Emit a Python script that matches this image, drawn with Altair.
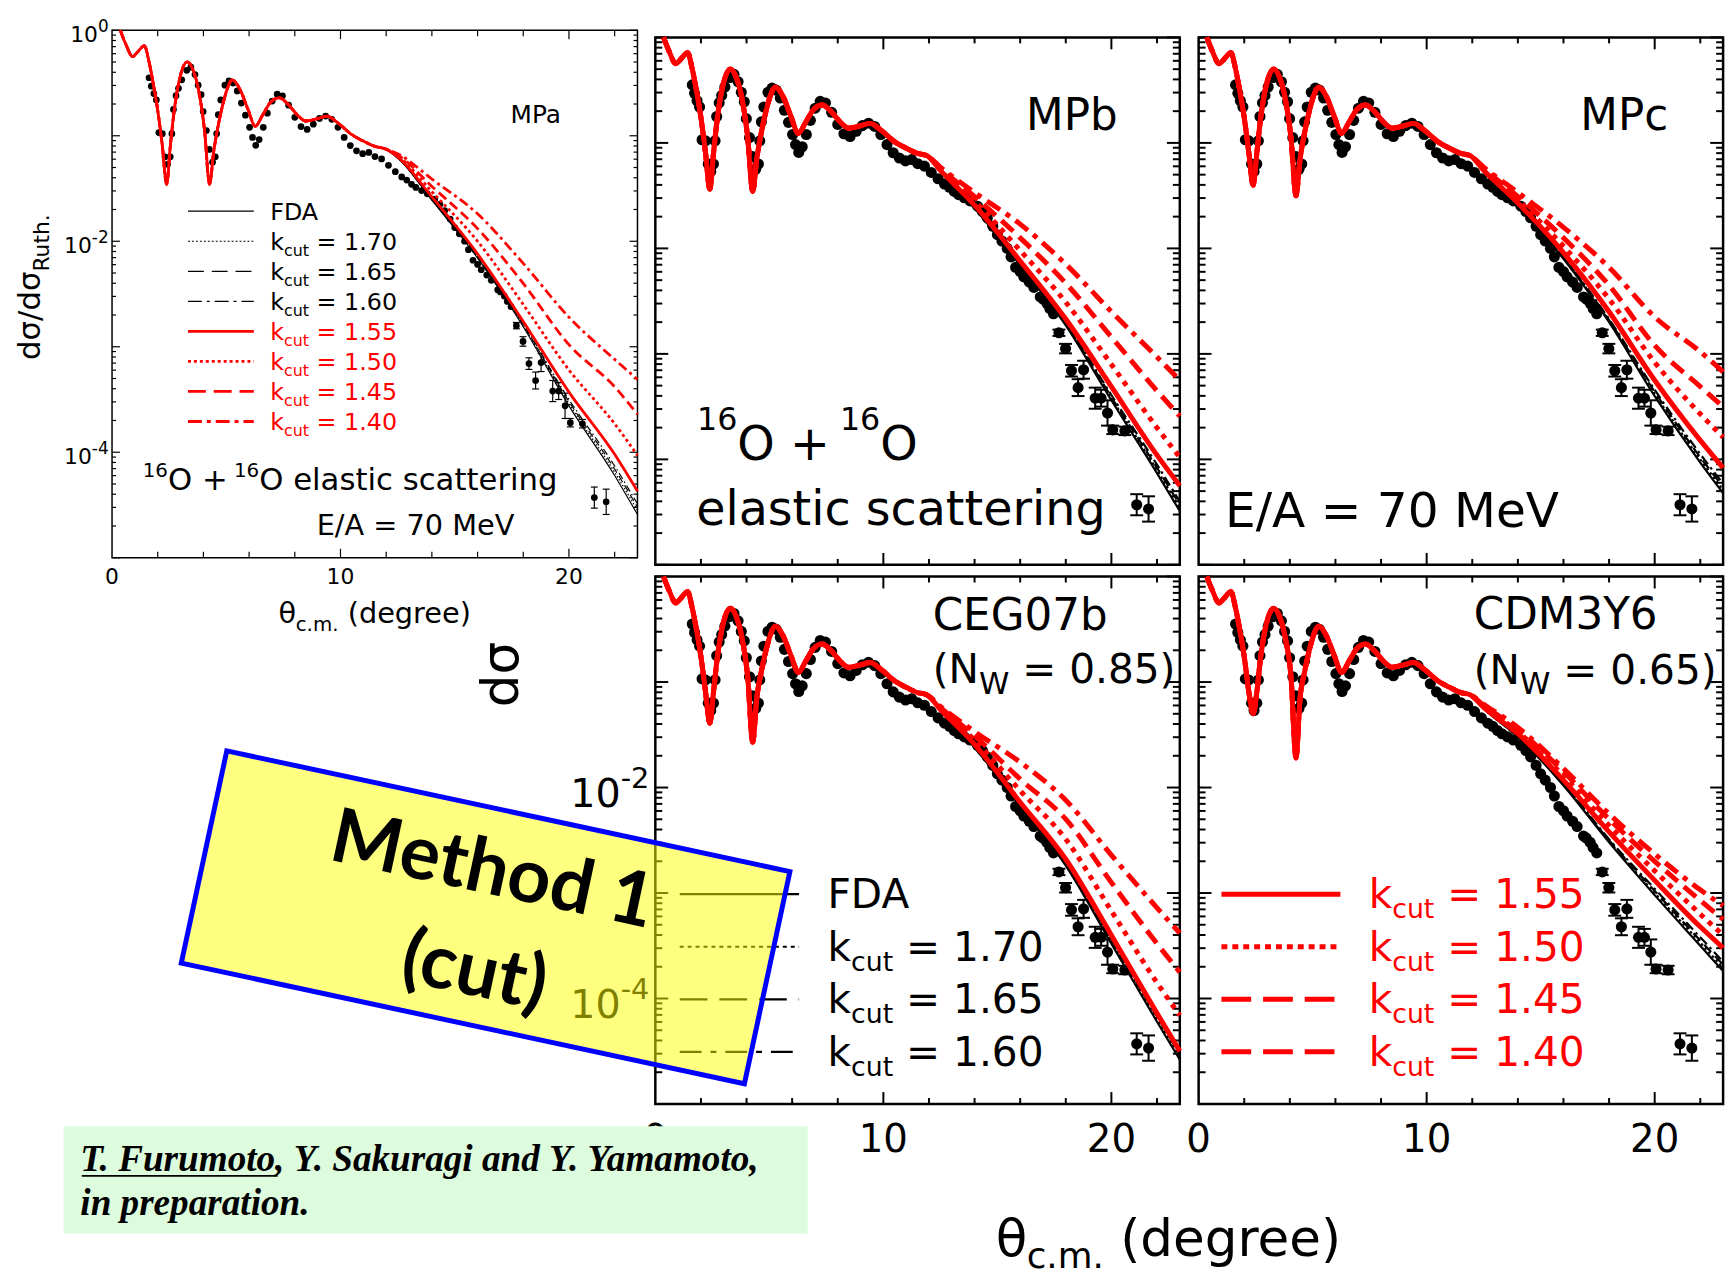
import altair as alt
import pandas as pd

# ------------------------------------------------------------------ data
# 16O + 16O elastic scattering at E/A = 70 MeV, cross section / Rutherford.
# Calculated curves: folding model (FDA) and k_cut variants, five interactions.
CURVES = ["FDA", "1.70", "1.65", "1.60", "1.55", "1.50", "1.45", "1.40"]

# forward-angle diffraction pattern common to every calculation (log10 ratio)
HEAD_THETA = [0.36, 0.6, 0.9, 1.1, 1.42, 1.6, 1.8, 2.0, 2.2, 2.55, 2.7, 2.97,
              3.29, 3.55, 3.8, 4.05, 4.45, 4.65, 4.9, 5.05, 5.26, 5.6, 5.95,
              6.27, 6.6, 6.95, 7.32, 7.7, 8.1, 8.48, 8.95, 9.42, 9.9, 10.5,
              11.0, 11.5, 11.9]
HEAD_LOG = [0.0, -0.13, -0.25, -0.21, -0.145, -0.28, -0.50, -0.76, -1.09,
            -1.10, -0.80, -0.45, -0.30, -0.38, -0.58, -0.95, -1.15, -0.90,
            -0.66, -0.55, -0.47, -0.56, -0.75, -0.91, -0.80, -0.68, -0.64,
            -0.70, -0.80, -0.86, -0.84, -0.815, -0.88, -0.99, -1.05, -1.10,
            -1.12]

# depth of the two deep diffraction minima for each interaction
DIP_THETA = [2.39, 4.27]
DIP_LOG = {
    "MPa": [-1.46, -1.46],
    "MPb": [-1.44, -1.46],
    "MPc": [-1.40, -1.50],
    "CEG07b": [-1.39, -1.57],
    "CDM3Y6": [-1.30, -1.72],
}

# larger angles, where the k_cut curves separate (log10 ratio)
TAIL_THETA = [12.5, 14, 16, 18, 20, 22, 23]
TAIL_LOG = {
    "MPa": {
        "FDA":  [-1.21, -1.61, -2.16, -2.81, -3.56, -4.22, -4.59],
        "1.70": [-1.21, -1.61, -2.15, -2.80, -3.54, -4.19, -4.55],
        "1.65": [-1.21, -1.60, -2.15, -2.79, -3.52, -4.16, -4.52],
        "1.60": [-1.21, -1.60, -2.14, -2.78, -3.50, -4.13, -4.49],
        "1.55": [-1.20, -1.58, -2.12, -2.76, -3.43, -4.02, -4.37],
        "1.50": [-1.19, -1.53, -2.00, -2.60, -3.22, -3.73, -4.03],
        "1.45": [-1.18, -1.48, -1.88, -2.40, -2.98, -3.38, -3.64],
        "1.40": [-1.17, -1.41, -1.74, -2.21, -2.72, -3.12, -3.31]},
    "MPb": {
        "FDA":  [-1.27, -1.62, -2.16, -2.73, -3.44, -4.13, -4.49],
        "1.70": [-1.27, -1.62, -2.15, -2.72, -3.42, -4.10, -4.46],
        "1.65": [-1.27, -1.61, -2.15, -2.71, -3.41, -4.08, -4.43],
        "1.60": [-1.27, -1.61, -2.14, -2.70, -3.39, -4.05, -4.40],
        "1.55": [-1.26, -1.59, -2.12, -2.67, -3.31, -3.96, -4.25],
        "1.50": [-1.25, -1.55, -2.02, -2.51, -3.10, -3.70, -3.98],
        "1.45": [-1.24, -1.51, -1.90, -2.33, -2.84, -3.35, -3.59],
        "1.40": [-1.23, -1.47, -1.77, -2.15, -2.60, -3.03, -3.25]},
    "MPc": {
        "FDA":  [-1.27, -1.60, -2.10, -2.70, -3.40, -4.03, -4.32],
        "1.70": [-1.27, -1.60, -2.09, -2.69, -3.38, -4.00, -4.29],
        "1.65": [-1.27, -1.59, -2.09, -2.68, -3.36, -3.98, -4.26],
        "1.60": [-1.27, -1.59, -2.08, -2.67, -3.34, -3.95, -4.23],
        "1.55": [-1.26, -1.57, -2.04, -2.60, -3.25, -3.82, -4.08],
        "1.50": [-1.25, -1.54, -1.98, -2.48, -3.08, -3.57, -3.79],
        "1.45": [-1.24, -1.51, -1.90, -2.35, -2.92, -3.31, -3.50],
        "1.40": [-1.23, -1.47, -1.80, -2.18, -2.65, -2.98, -3.17]},
    "CEG07b": {
        "FDA":  [-1.27, -1.62, -2.18, -2.74, -3.48, -4.22, -4.58],
        "1.70": [-1.27, -1.62, -2.17, -2.73, -3.46, -4.19, -4.55],
        "1.65": [-1.27, -1.61, -2.17, -2.72, -3.45, -4.17, -4.53],
        "1.60": [-1.27, -1.61, -2.16, -2.71, -3.43, -4.15, -4.51],
        "1.55": [-1.26, -1.59, -2.14, -2.68, -3.40, -4.14, -4.50],
        "1.50": [-1.25, -1.55, -2.03, -2.49, -3.17, -3.85, -4.16],
        "1.45": [-1.24, -1.51, -1.92, -2.30, -2.90, -3.48, -3.75],
        "1.40": [-1.23, -1.47, -1.76, -2.12, -2.64, -3.14, -3.38]},
    "CDM3Y6": {
        "FDA":  [-1.25, -1.52, -1.98, -2.52, -3.02, -3.50, -3.74],
        "1.70": [-1.25, -1.52, -1.97, -2.51, -3.00, -3.47, -3.71],
        "1.65": [-1.25, -1.51, -1.97, -2.50, -2.98, -3.45, -3.68],
        "1.60": [-1.25, -1.51, -1.96, -2.49, -2.96, -3.42, -3.65],
        "1.55": [-1.24, -1.49, -1.93, -2.42, -2.88, -3.32, -3.52],
        "1.50": [-1.23, -1.47, -1.89, -2.36, -2.79, -3.20, -3.40],
        "1.45": [-1.22, -1.45, -1.85, -2.30, -2.70, -3.07, -3.25],
        "1.40": [-1.21, -1.43, -1.82, -2.25, -2.63, -2.97, -3.12]},
}

# measured cross sections (log10 ratio)
EXP_THETA = [
    1.62, 1.72, 1.83, 1.94, 2.05, 2.20, 2.32, 2.43, 2.55, 2.62,
    2.69, 2.80, 2.91, 3.05, 3.27, 3.45, 3.63, 3.77, 3.90, 3.99,
    4.13, 4.26, 4.40, 4.52, 4.58, 4.65, 4.76, 4.94, 5.12, 5.30,
    5.48, 5.66, 5.84, 6.02, 6.15, 6.29, 6.44, 6.62, 6.80, 7.01,
    7.23, 7.46, 7.73, 8.00, 8.27, 8.54, 8.81, 9.08, 9.35, 9.62,
    9.89, 10.16, 10.43, 10.70, 10.97, 11.24, 11.51, 11.80, 12.10, 12.40,
    12.68, 12.90, 13.11, 13.30, 13.55, 13.80, 14.13, 14.35, 14.56, 14.80,
    15.00, 15.20, 15.43, 15.60, 15.80, 16.00, 16.16, 16.40, 16.60, 16.88,
    17.00, 17.17, 17.30, 17.46, 17.70, 17.99, 18.25, 18.54, 18.78, 19.29,
    19.55, 19.83, 20.06, 20.59, 21.11, 21.63]
EXP_LOG = [
    -0.45, -0.53, -0.60, -0.66, -0.97, -0.98, -1.20, -1.27, -1.20, -0.98,
    -0.75, -0.62, -0.55, -0.47, -0.38, -0.35, -0.42, -0.52, -0.61, -0.77,
    -0.95, -1.13, -1.25, -1.20, -0.98, -0.80, -0.66, -0.52, -0.48, -0.50,
    -0.575, -0.69, -0.805, -0.92, -1.016, -1.09, -1.036, -0.92, -0.786, -0.671,
    -0.606, -0.621, -0.71, -0.825, -0.913, -0.94, -0.89, -0.836, -0.813, -0.844,
    -0.92, -1.016, -1.093, -1.143, -1.17, -1.158, -1.197, -1.22, -1.28, -1.34,
    -1.39, -1.42, -1.46, -1.49, -1.52, -1.55, -1.60, -1.65, -1.71, -1.79,
    -1.87, -1.93, -2.00, -2.08, -2.18, -2.22, -2.27, -2.32, -2.37, -2.46,
    -2.48, -2.52, -2.57, -2.62, -2.80, -2.95, -3.16, -3.32, -3.15, -3.42,
    -3.42, -3.56, -3.72, -3.73, -4.43, -4.47]
# visible error bars (half width in log10)
ERR_THETA = [17.70, 17.99, 18.25, 18.54, 18.78, 19.29, 19.55, 19.83, 20.06, 20.59, 21.11, 21.63]
ERR_HALF = [0.03, 0.045, 0.055, 0.08, 0.085, 0.10, 0.08, 0.12, 0.04, 0.04, 0.10, 0.12]

# axis ticks
Y_DECADES = [1e-5, 1e-4, 1e-3, 1e-2, 1e-1, 1.0]
Y_MINOR = [m * d for d in Y_DECADES[:-1] for m in range(2, 10)]
X_MAJOR = [10, 20]
X_MINOR = [2, 4, 6, 8, 12, 14, 16, 18, 22]
X_LABELS = [0, 10, 20]

# ------------------------------------------------------------------ style
FONT = "DejaVu Sans"
BLACK = "#000000"
RED = "#ff0000"
NBSP = "\u00a0"
ONE = pd.DataFrame({"k": [0]})

# advance widths (em) of DejaVu Sans, used to chain sub/superscripts
DV = {" ": .318, NBSP: .318, "(": .390, ")": .390, "+": .838, ",": .318, "-": .361,
      ".": .318, "/": .337, "=": .838, "A": .684, "C": .698, "D": .770,
      "E": .632, "F": .575, "G": .775, "M": .863, "N": .748, "O": .787,
      "P": .603, "R": .695, "V": .684, "W": .989, "Y": .611, "a": .613,
      "b": .635, "c": .550, "d": .635, "e": .615, "g": .635, "h": .634,
      "i": .278, "k": .579, "l": .278, "m": .974, "n": .634, "r": .411,
      "s": .521, "t": .392, "u": .634, "θ": .602, "σ": .634}
for _d in "0123456789":
    DV[_d] = .636


def tw(s, size):
    return sum(DV.get(c, 0.6) for c in s) * size


SMALL = dict(frame=1.5, tick=1.2, ymaj=8, ymin=4, xmaj=9, xmin=6, dot=46, cap=7, bar=1.2,
             curves={"FDA": (BLACK, 1.2, None), "1.70": (BLACK, 1.2, [1.5, 2]),
                     "1.65": (BLACK, 1.2, [7, 4]), "1.60": (BLACK, 1.2, [7, 3, 1.5, 3]),
                     "1.55": (RED, 2.8, None), "1.50": (RED, 2.8, [3, 3]),
                     "1.45": (RED, 2.8, [10, 5]), "1.40": (RED, 2.8, [10, 4, 3, 4])},
             legend={"FDA": (BLACK, 1.2, None), "1.70": (BLACK, 1.2, [2, 2]),
                     "1.65": (BLACK, 1.2, [16, 8]), "1.60": (BLACK, 1.2, [14, 5, 3, 5]),
                     "1.55": (RED, 2.8, None), "1.50": (RED, 2.8, [3, 3]),
                     "1.45": (RED, 2.8, [18, 8]), "1.40": (RED, 2.8, [14, 5, 4, 5])})
BIG = dict(frame=2.5, tick=2, ymaj=13, ymin=7, xmaj=12, xmin=6, dot=125, cap=13, bar=2,
           curves={"FDA": (BLACK, 2.2, None), "1.70": (BLACK, 2.2, [2.5, 3]),
                   "1.65": (BLACK, 2.2, [10, 6]), "1.60": (BLACK, 2.2, [10, 4, 2.5, 4]),
                   "1.55": (RED, 5, None), "1.50": (RED, 5, [5, 6]),
                   "1.45": (RED, 5, [16, 8]), "1.40": (RED, 5, [16, 7, 5, 7])},
           legend={"FDA": (BLACK, 2.2, None), "1.70": (BLACK, 2.2, [4, 4]),
                   "1.65": (BLACK, 2.2, [28, 12]), "1.60": (BLACK, 2.2, [22, 9, 6, 9]),
                   "1.55": (RED, 5, None), "1.50": (RED, 5, [6, 5]),
                   "1.45": (RED, 5, [30, 12]), "1.40": (RED, 5, [30, 12])})

# plot-area size, vertical offset inside the grid cell, and cell size
PLOT = {"MPa": (530, 532), "MPb": (529, 532), "MPc": (529, 532),
        "CEG07b": (529, 532), "CDM3Y6": (529, 532)}
OFFSET_Y = {"MPa": 0, "MPb": 7.2, "MPc": 7.2, "CEG07b": 0, "CDM3Y6": 0}
CELL = {"MPa": (539.7, 550.8), "MPb": (547.6, 550.8), "MPc": (529, 550.8),
        "blank": (539.7, 532.5), "CEG07b": (547.6, 532.5), "CDM3Y6": (529, 532.5)}


def label(text, x, y, size, color=BLACK, dx=0.0, dy=0.0, angle=0, font=FONT,
          align="left", weight="normal", style="normal", baseline="alphabetic"):
    kw = dict(text=text.replace(" ", NBSP), font=font, fontSize=size, color=color, dx=dx, dy=dy,
              align=align, baseline=baseline, fontWeight=weight, fontStyle=style)
    if angle:
        kw["angle"] = angle
    return alt.Chart(ONE).mark_text(**kw).encode(x=alt.value(x), y=alt.value(y))


def rich(parts, x, y, color=BLACK, angle=0):
    """Chain text pieces of different size/baseline; leading blanks become offsets."""
    out, adv = [], 0.0
    for text, size, dy in parts:
        body = text.lstrip(" ")
        adv += tw(text[:len(text) - len(body)], size)
        out.append(label(body, x, y, size, color=color, dx=adv, dy=dy, angle=angle))
        adv += tw(body, size)
    return out


def hline(x1, x2, y, color, width, dash):
    kw = dict(color=color, strokeWidth=width, strokeCap="butt")
    if dash:
        kw["strokeDash"] = dash
    return alt.Chart(ONE).mark_rule(**kw).encode(
        x=alt.value(x1), x2=alt.value(x2), y=alt.value(y))


def curve_table(name, curve):
    pts = sorted(list(zip(HEAD_THETA, HEAD_LOG)) + list(zip(DIP_THETA, DIP_LOG[name])))
    pts += list(zip(TAIL_THETA, TAIL_LOG[name][curve]))
    return pd.DataFrame({"theta": [p[0] for p in pts],
                         "ratio": [10 ** p[1] for p in pts]})


def legend_block(st, curves, x1, x2, xt, y0, step, size, sub, subdy, base):
    out = []
    for i, c in enumerate(curves):
        color, width, dash = st["legend"][c]
        y = y0 + i * step
        out.append(hline(x1, x2, y, color, width, dash))
        if c == "FDA":
            out.append(label("FDA", xt, y + base, size, color=color))
        else:
            out += rich([("k", size, 0), ("cut", sub, subdy), (" = " + c, size, 0)],
                        xt, y + base, color=color)
    return out


def build(name):
    big = name != "MPa"
    st = BIG if big else SMALL
    pw, ph = PLOT[name]
    oy = OFFSET_Y[name]
    cw, chh = CELL[name]
    xs = alt.Scale(domain=[0, 23], range=[0, pw], nice=False, zero=False)
    ys = alt.Scale(type="log", domain=[1e-5, 1], range=[oy + ph, oy], nice=False)
    layers = []

    # frame and inward ticks on all four sides
    layers.append(alt.Chart(ONE).mark_rect(fillOpacity=0, stroke=BLACK, strokeWidth=st["frame"]).encode(
        x=alt.value(0), x2=alt.value(pw), y=alt.value(oy), y2=alt.value(oy + ph)))
    for vals, L in [(Y_DECADES, st["ymaj"]), (Y_MINOR, st["ymin"])]:
        base = alt.Chart(pd.DataFrame({"v": vals})).mark_rule(color=BLACK, strokeWidth=st["tick"]).encode(
            y=alt.Y("v:Q", scale=ys, axis=None))
        layers.append(base.encode(x=alt.value(0), x2=alt.value(L)))
        layers.append(base.encode(x=alt.value(pw - L), x2=alt.value(pw)))
    for vals, L in [(X_MAJOR, st["xmaj"]), (X_MINOR, st["xmin"])]:
        base = alt.Chart(pd.DataFrame({"t": vals})).mark_rule(color=BLACK, strokeWidth=st["tick"]).encode(
            x=alt.X("t:Q", scale=xs, axis=None))
        layers.append(base.encode(y=alt.value(oy + ph - L), y2=alt.value(oy + ph)))
        layers.append(base.encode(y=alt.value(oy), y2=alt.value(oy + L)))

    # measured points with error bars
    centre = dict(zip(EXP_THETA, EXP_LOG))
    err = pd.DataFrame({"theta": ERR_THETA,
                        "lo": [10 ** (centre[t] - h) for t, h in zip(ERR_THETA, ERR_HALF)],
                        "hi": [10 ** (centre[t] + h) for t, h in zip(ERR_THETA, ERR_HALF)]})
    ex = alt.X("theta:Q", scale=xs, axis=None)
    layers.append(alt.Chart(err).mark_rule(color=BLACK, strokeWidth=st["bar"]).encode(
        x=ex, y=alt.Y("lo:Q", scale=ys, axis=None), y2="hi:Q"))
    for f in ["lo", "hi"]:
        layers.append(alt.Chart(err).mark_tick(orient="horizontal", size=st["cap"], thickness=st["bar"],
                                               color=BLACK, opacity=1).encode(
            x=ex, y=alt.Y(f + ":Q", scale=ys, axis=None)))
    exp = pd.DataFrame({"theta": EXP_THETA, "ratio": [10 ** v for v in EXP_LOG]})
    layers.append(alt.Chart(exp).mark_point(shape="circle", filled=True, size=st["dot"], color=BLACK,
                                            opacity=1).encode(
        x=ex, y=alt.Y("ratio:Q", scale=ys, axis=None)))

    # calculated curves, black family first, red on top
    for c in CURVES:
        color, width, dash = st["curves"][c]
        kw = dict(color=color, strokeWidth=width, interpolate="monotone", strokeCap="butt")
        if dash:
            kw["strokeDash"] = dash
        layers.append(alt.Chart(curve_table(name, c)).mark_line(**kw).encode(
            x=alt.X("theta:Q", scale=xs, axis=None), y=alt.Y("ratio:Q", scale=ys, axis=None)))

    def x_labels(size, off):
        df = pd.DataFrame({"t": X_LABELS, "s": [str(v) for v in X_LABELS]})
        return alt.Chart(df).mark_text(font=FONT, fontSize=size, align="center", baseline="alphabetic",
                                       color=BLACK).encode(
            x=alt.X("t:Q", scale=xs, axis=None), y=alt.value(oy + ph + off), text="s:N")

    def y_labels(values, exps, right, size, esize, bdy, edy):
        out = []
        for v, e in zip(values, exps):
            df = pd.DataFrame({"v": [v]})
            wb, we = tw("10", size), tw(e, esize)
            enc = dict(x=alt.value(right - wb - we), y=alt.Y("v:Q", scale=ys, axis=None))
            out.append(alt.Chart(df).mark_text(text="10", font=FONT, fontSize=size, align="left",
                                               baseline="alphabetic", dy=bdy, color=BLACK).encode(**enc))
            out.append(alt.Chart(df).mark_text(text=e, font=FONT, fontSize=esize, align="left",
                                               baseline="alphabetic", dx=wb, dy=edy, color=BLACK).encode(**enc))
        return out

    if name == "MPa":
        # fixes the top-left corner of the whole figure
        layers.append(alt.Chart(ONE).mark_rect(opacity=0).encode(
            x=alt.value(-112), x2=alt.value(-111), y=alt.value(-24.5), y2=alt.value(-23.5)))
        layers += y_labels([1.0, 1e-2, 1e-4], ["0", "-2", "-4"], -3.4, 22, 17, 12.3, 2)
        layers.append(x_labels(22, 27))
        layers += rich([("θ", 29, 0), ("c.m.", 20, 8), (" (degree)", 29, 0)], 167.8, 598)
        layers += rich([("dσ/dσ", 31, 0), ("Ruth.", 22, 9)], -72.6, 332.5, angle=270)
        layers.append(label("MPa", 402, 93.5, 25))
        layers += legend_block(st, CURVES, 76.6, 143, 159.6, 182.5, 30.3, 24, 16, 6, 8.5)
        layers += rich([("16", 20, -13), ("O +", 31, 0), (" 16", 20, -13),
                        ("O elastic scattering", 31, 0)], 31, 463.3)
        layers.append(label("E/A = 70 MeV", 206.4, 509, 29))
    elif name == "MPb":
        layers.append(label("MPb", 374, oy + 93.7, 44))
        layers += rich([("16", 32, -30), ("O +", 48, 0), (" 16", 32, -30), ("O", 48, 0)], 42, oy + 425.8)
        layers.append(label("elastic scattering", 41.2, oy + 491.9, 48))
    elif name == "MPc":
        layers.append(label("MPc", 385, oy + 93.7, 44))
        layers.append(label("E/A = 70 MeV", 26.6, oy + 493.7, 49))
    elif name == "CEG07b":
        layers.append(label("CEG07b", 279.7, 53.9, 44))
        layers += rich([("(N", 41, 0), ("W", 31, 11), (" = 0.85)", 41, 0)], 279.7, 107.5)
        layers += legend_block(st, ["FDA", "1.70", "1.65", "1.60"], 24.6, 145, 173.6, 320.4, 53,
                               41, 27, 10, 14)
        layers += y_labels([1e-2, 1e-4], ["-2", "-4"], -6, 40, 29, 19.5, 0)
        layers.append(x_labels(39, 48))
        layers += rich([("θ", 52, 0), ("c.m.", 36, 12), (" (degree)", 52, 0)], 343.3, 685.7)
        layers.append(label("dσ", -139, 131.7, 52, angle=270))
        # highlighted note
        box = "M -1 -0.3768 L 1 -0.3768 L 1 0.3768 L -1 0.3768 Z"
        layers.append(alt.Chart(ONE).mark_point(shape=box, size=337445, angle=12.1, filled=True,
                                                fill="#ffff00", fillOpacity=0.5, stroke="#0000ff",
                                                strokeWidth=5, strokeOpacity=1, opacity=1).encode(
            x=alt.value(-171.2), y=alt.value(343.7)))
        layers.append(label("Method 1", -164.2, 297.4, 76, font="Lato", align="center",
                            weight="bold", angle=12.1, baseline="middle"))
        layers.append(label("(cut)", -182.6, 399.4, 76, font="Lato", align="center",
                            weight="bold", angle=12.1, baseline="middle"))
        # reference
        layers.append(alt.Chart(ONE).mark_rect(color="#ddfcdd").encode(
            x=alt.value(-596.8), x2=alt.value(153.7), y=alt.value(554.5), y2=alt.value(662.7)))
        serif = "Liberation Serif"
        layers.append(label("T. Furumoto, Y. Sakuragi and Y. Yamamoto,", -580, 599.4, 37.5,
                            font=serif, weight="bold", style="italic"))
        layers.append(label("in preparation.", -580, 644.3, 37.5, font=serif, weight="bold", style="italic"))
        layers.append(hline(-578.5, -381, 604.5, BLACK, 2, None))
    elif name == "CDM3Y6":
        layers.append(label("CDM3Y6", 277.5, 52.6, 44))
        layers += rich([("(N", 41, 0), ("W", 31, 11), (" = 0.65)", 41, 0)], 277.5, 107.9)
        layers += legend_block(st, ["1.55", "1.50", "1.45", "1.40"], 23, 143, 171.5, 320.4, 53,
                               41, 27, 10, 14)
        layers.append(x_labels(39, 48))

    return alt.layer(*layers).properties(width=cw, height=chh)


blank = alt.Chart(ONE).mark_point(opacity=0).encode(x=alt.value(0), y=alt.value(0)).properties(
    width=CELL["blank"][0], height=CELL["blank"][1])

chart = alt.concat(
    build("MPa"), build("MPb"), build("MPc"), blank, build("CEG07b"), build("CDM3Y6"),
    columns=3, spacing=0, bounds="flush", align="all",
).properties(padding=0, background="white").configure_view(stroke="transparent")

chart.save("out.html", embed_options={"renderer": "svg", "actions": False})
